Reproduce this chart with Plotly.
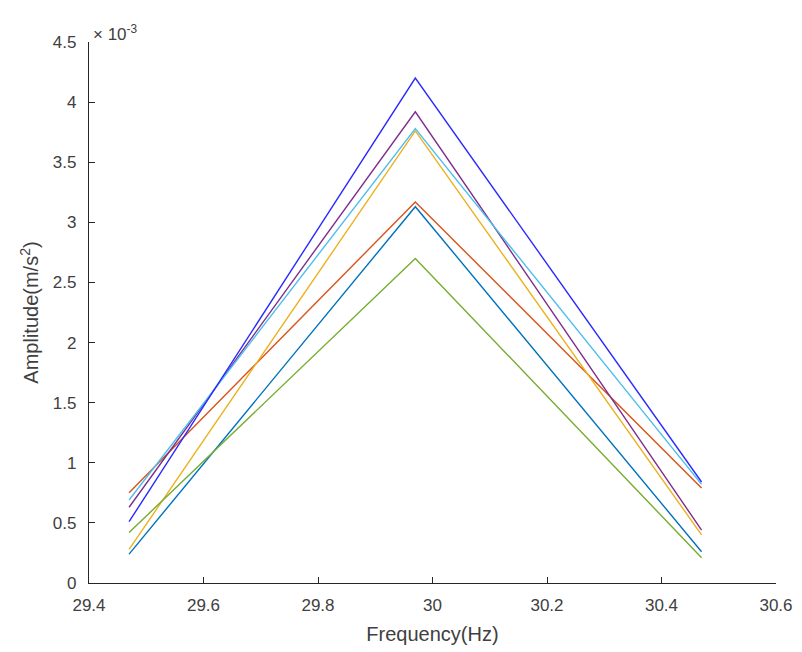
import plotly.graph_objects as go

freq_hz = [29.47, 29.97, 30.47]

# amplitudes in units of 1e-3 m/s^2
series_names = ["s1", "s2", "s3", "s4", "s5", "s6", "s7"]
amp_teal = [0.24, 3.13, 0.26]
amp_red = [0.75, 3.17, 0.79]
amp_yellow = [0.28, 3.76, 0.40]
amp_purple = [0.63, 3.92, 0.44]
amp_green = [0.42, 2.70, 0.21]
amp_cyan = [0.69, 3.78, 0.82]
amp_blue = [0.51, 4.20, 0.84]

series = [amp_teal, amp_red, amp_yellow, amp_purple, amp_green, amp_cyan, amp_blue]
colors = ["#0072BD", "#D95319", "#EDB120", "#7E2F8E", "#77AC30", "#4DBEEE", "#2A2AFF"]

x_ticks = [29.4, 29.6, 29.8, 30.0, 30.2, 30.4, 30.6]
x_ticktext = ["29.4", "29.6", "29.8", "30", "30.2", "30.4", "30.6"]
y_ticks = [0, 0.5, 1, 1.5, 2, 2.5, 3, 3.5, 4, 4.5]
y_ticktext = ["0", "0.5", "1", "1.5", "2", "2.5", "3", "3.5", "4", "4.5"]

fig = go.Figure()
for name, vals, col in zip(series_names, series, colors):
    fig.add_trace(go.Scatter(x=freq_hz, y=vals, mode="lines", name=name,
                             line=dict(color=col, width=1.4), showlegend=False))

axis_col = "#262626"
txt_col = "#404040"
font_fam = "Liberation Sans, Arial, sans-serif"
fig.update_layout(
    width=794, height=644,
    margin=dict(l=81, r=26, t=34, b=69, autoexpand=False),
    paper_bgcolor="white", plot_bgcolor="white",
    font=dict(family=font_fam, color=txt_col, size=17),
    xaxis=dict(range=[29.4, 30.6], tickvals=x_ticks, ticktext=x_ticktext,
               showgrid=False, zeroline=False, showline=True, linecolor=axis_col,
               linewidth=1.2, ticks="inside", ticklen=6, tickcolor=axis_col,
               automargin=False, ticklabelstandoff=6,
               tickfont=dict(size=17, color=txt_col),
               title=dict(text="Frequency(Hz)", font=dict(size=20, color=txt_col), standoff=13)),
    yaxis=dict(range=[0, 4.5], tickvals=y_ticks, ticktext=y_ticktext,
               showgrid=False, zeroline=False, showline=True, linecolor=axis_col,
               linewidth=1.2, ticks="inside", ticklen=6, tickcolor=axis_col,
               automargin=False, ticklabelstandoff=8,
               tickfont=dict(size=17, color=txt_col),
               title=dict(text="Amplitude(m/s<sup>2</sup>)", font=dict(size=20, color=txt_col), standoff=8)),
)
fig.add_annotation(x=0, y=1, xref="paper", yref="paper", xanchor="left", yanchor="bottom",
                   text="× 10<sup>-3</sup>", showarrow=False, xshift=2, yshift=-4,
                   font=dict(size=17, color=txt_col))

fig.write_html("out.html")
